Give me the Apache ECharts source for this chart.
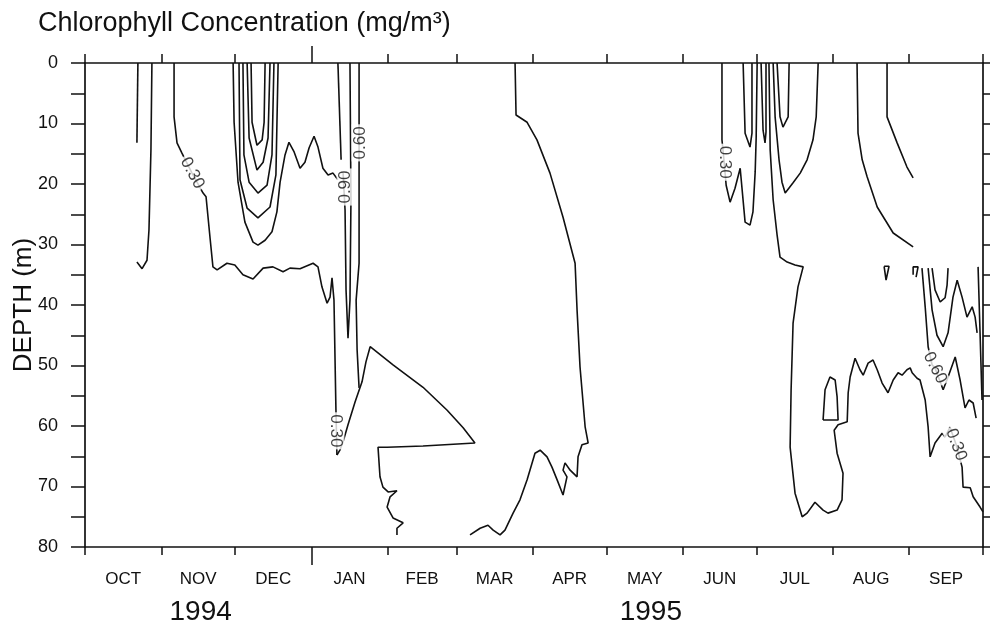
<!DOCTYPE html>
<html><head><meta charset="utf-8">
<script src="https://cdn.jsdelivr.net/npm/echarts@6/dist/echarts.min.js"></script>
<style>html,body{margin:0;padding:0;background:#fff}#chart{width:991px;height:625px}</style>
</head><body><div id="chart"></div>
<script>
// ---- axis data (x = days since 1 Oct 1994, y = depth in m) ----
const monthNames = ['OCT','NOV','DEC','JAN','FEB','MAR','APR','MAY','JUN','JUL','AUG','SEP'];
const monthStartDays = [0,31,61,92,123,151,182,212,243,273,304,335,365];
const yearLabels = ['1994','1995'];
const yearLabelDays = [47,230];
const yearBreakDays = [92];
const depthTicks = [0,5,10,15,20,25,30,35,40,45,50,55,60,65,70,75,80];
const depthLabels = [0,10,20,30,40,50,60,70,80];

// ---- contour lines [day, depth] ----
const octA = [[21.5,0],[21.1,13.2]];
const octB = [[27.2,0],[26.8,14.4],[26.0,27.6],[25.2,32.6],[23.2,34.0],[21.1,32.9]];
const nov030 = [[36.2,0],[36.2,8.9],[37.4,13.2],[39.4,14.9],[43.5,18.2],[48.0,21.5],[49.2,22.1],[50.8,28.8],[52.0,33.7],[53.7,34.2],[57.7,33.1],[60.9,33.4],[64.2,35.0],[68.3,35.7],[72.4,33.9],[76.4,33.7],[80.5,34.5],[83.3,33.9],[87.4,34.0],[92.7,33.1],[94.7,33.7],[96.3,37.0],[98.4,39.7],[99.6,38.7],[100.4,35.5],[101.2,39.2],[102.0,57.4],[102.4,64.8]];
const janTri = [[102.4,64.8],[103.6,64.0],[104.9,62.6],[106.9,59.8],[109.8,56.0],[112.6,52.7],[114.2,49.4],[115.9,46.9],[125.2,49.9],[137.4,53.6],[147.2,57.4],[153.7,60.3],[158.5,62.8],[137.4,63.3],[122.8,63.5],[119.1,63.5],[119.9,68.4],[121.1,70.1],[123.2,70.9],[126.8,70.7],[124.0,71.7],[122.8,73.4],[125.2,75.2],[129.3,76.0],[126.8,76.9],[126.8,78.0]];
const janTop = [[102.8,0],[104.1,16.0]];
const jan090 = [[104.9,18.2],[105.7,24.3],[106.1,37.5],[106.9,45.5],[107.7,39.2],[108.1,22.6],[107.7,0]];
const jan060 = [[111.4,0],[111.4,33.1],[110.2,39.2],[110.6,47.4],[111.4,53.7]];
const decU1 = [[67.5,0],[67.9,9.8],[69.9,13.6],[72.0,12.7],[72.8,9.8],[73.2,0]];
const decU2 = [[65.9,0],[66.7,12.4],[69.9,17.7],[72.4,16.4],[74.4,12.4],[75.2,0]];
const decU3 = [[64.2,0],[64.6,15.2],[66.7,19.7],[70.3,21.5],[74.0,20.2],[76.0,15.2],[76.8,0]];
const decU4 = [[62.6,0],[63.0,19.3],[65.9,24.0],[70.3,25.6],[75.2,23.8],[77.6,18.5],[78.5,0]];
const decU5 = [[60.2,0],[60.6,9.8],[62.2,19.7],[65.0,26.3],[68.3,29.6],[70.3,30.1],[73.2,29.3],[76.0,27.9],[78.0,24.6],[79.3,19.7],[81.3,15.2],[82.9,13.1],[85.0,14.7],[87.4,17.4],[89.4,16.4],[91.1,14.0],[93.1,12.1],[94.7,13.9],[96.7,17.4],[98.8,18.5],[100.8,18.2],[102.8,19.3]];
const marApr = [[174.8,0],[175.2,8.6],[179.7,9.8],[183.7,12.7],[189.0,18.2],[194.3,25.5],[199.2,33.1],[200.0,40.8],[201.2,50.2],[203.3,60.2],[204.5,62.8],[202.0,63.1],[200.4,65.1],[200.0,68.4],[197.2,67.3],[195.1,66.1],[194.3,67.3],[195.9,68.4],[194.3,71.4],[191.9,68.9],[189.8,66.8],[187.8,65.1],[185.0,64.0],[182.9,64.5],[179.7,68.9],[176.8,72.2],[174.0,74.4],[170.7,77.2],[168.7,78.0],[165.9,77.2],[163.8,76.4],[160.6,76.9],[156.5,78.0]];
const jun030 = [[258.9,0],[258.9,12.7],[259.8,16.4],[260.6,20.2],[262.2,23.0],[264.2,20.7],[266.3,17.4],[268.3,26.3],[270.3,26.8],[271.5,24.6],[272.4,18.0],[272.8,12.4],[273.2,0]];
const junF1 = [[267.5,0],[268.3,11.6],[270.3,13.9],[271.1,11.6],[271.1,0]];
const junF2 = [[274.8,0],[275.6,11.1],[276.4,13.2],[276.8,11.4],[276.8,0]];
const julU = [[279.7,0],[280.5,8.9],[282.1,16.0],[283.3,19.7],[284.6,21.5],[287.8,19.8],[290.7,18.2],[293.5,16.0],[295.9,12.7],[297.2,8.9],[298.0,0]];
const julF = [[281.3,0],[282.5,8.9],[283.7,10.6],[285.8,8.9],[286.2,0]];
const jul030 = [[278.0,0],[278.5,14.4],[279.7,22.6],[281.3,28.4],[282.5,32.1],[285.4,32.9],[288.6,33.4],[291.9,33.7],[289.8,37.0],[287.8,43.0],[287.0,54.0],[286.6,63.5],[288.6,71.1],[291.5,75.0],[293.5,74.4],[296.7,72.6],[300.0,73.9],[302.0,74.4],[305.7,73.9],[307.7,72.2],[308.1,67.8],[305.7,64.5],[304.5,60.7],[306.1,59.8],[309.8,59.3],[310.2,54.5],[311.0,51.9],[313.0,48.8],[315.0,50.7],[316.3,51.6],[318.3,49.6],[320.3,49.1],[322.0,50.7],[324.0,52.9],[326.4,54.5],[328.5,52.4],[330.5,51.2],[332.1,51.6],[334.1,50.7],[335.4,50.4],[336.2,51.2],[338.2,52.1],[339.4,52.4],[341.5,55.7],[342.7,60.2],[343.5,65.1],[345.5,62.8],[348.4,61.2],[349.6,61.8],[351.6,60.2],[354.1,63.1],[356.5,66.8],[356.9,70.1],[359.8,70.2],[361.0,71.7],[363.8,73.4],[365.0,74.2]];
const augA = [[313.8,0],[314.2,11.6],[315.9,16.0],[317.9,18.8],[322.0,23.8],[328.5,28.1],[336.6,30.4]];
const augB = [[326.0,0],[326.0,8.9],[330.1,13.2],[334.1,17.2],[336.6,19.0]];
const augLoop = [[300.0,59.0],[300.8,54.0],[302.8,51.9],[304.9,52.4],[305.7,55.2],[306.1,59.0],[300.0,59.0]];
const augTri = [[324.8,33.6],[326.8,33.6],[325.6,35.9],[324.8,33.6]];
const augHook = [[336.6,35.0],[336.6,33.7],[338.6,33.7],[337.8,35.4]];
const sep060 = [[340.2,33.9],[341.5,40.3],[342.7,46.9],[344.3,49.9],[345.5,50.4],[348.8,54.0],[350.8,51.9],[353.7,48.6],[355.7,52.4],[357.7,57.0],[359.3,55.7],[361.0,56.2],[362.2,58.7]];
const sepU1 = [[344.3,33.9],[345.5,37.5],[347.6,39.5],[349.6,38.8],[350.4,36.7],[350.8,33.9]];
const sepU2 = [[342.7,33.9],[344.3,40.8],[346.3,45.0],[348.8,46.9],[350.8,44.6],[352.8,38.7],[354.5,35.9],[356.5,38.7],[358.5,42.0],[360.6,40.3],[361.8,42.0],[362.6,44.6]];
const sepEdge = [[363.0,33.7],[363.8,44.6],[364.6,55.7]];

// ---- contour labels ----
const labelTexts = ['0.30','0.90','0.60','0.30','0.30','0.60','0.30'];
const labelDays  = [43.6,105.7,111.8,102.0,260.0,345.5,354.1];
const labelDepths= [18.2,20.5,13.2,60.8,16.4,50.4,63.1];
const labelAngles= [-62,90,90,-90,-90,-63,-69];

const contours = [octA,octB,nov030,janTri,janTop,jan090,jan060,decU1,decU2,decU3,decU4,decU5,marApr,
  jun030,junF1,junF2,julU,julF,jul030,augA,augB,augLoop,augTri,augHook,sep060,sepU1,sepU2,sepEdge];

const INK = '#111';
const FONT = '"Liberation Sans", Arial, sans-serif';
const monthMid = monthNames.map((m,i)=> (monthStartDays[i]+monthStartDays[i+1])/2);

function xBase(extra){
  return Object.assign({type:'value', min:0, max:365, gridIndex:0, splitLine:{show:false},
    axisLine:{show:false, onZero:false}, axisTick:{show:false}, axisLabel:{show:false}}, extra);
}

const chart = echarts.init(document.getElementById('chart'), null, {renderer:'canvas'});
const option = {
  animation:false,
  backgroundColor:'#fff',
  title:{text:'Chlorophyll Concentration (mg/m³)', left:33, top:5,
    textStyle:{fontSize:27, fontWeight:'normal', fontFamily:FONT, color:INK}},
  grid:{left:85, right:8, top:63, bottom:78, containLabel:false, outerBoundsMode:'none'},
  xAxis:[
    xBase({position:'bottom',
      axisLine:{show:true, onZero:false, lineStyle:{color:INK, width:1.7}},
      axisTick:{show:true, customValues:monthStartDays, length:8, lineStyle:{color:INK, width:1.5}},
      axisLabel:{show:true, customValues:monthMid, margin:24, fontSize:17, color:INK, fontFamily:FONT,
        formatter:(v)=> monthNames[monthMid.indexOf(v)] || ''}}),
    xBase({position:'bottom',
      axisTick:{show:true, customValues:yearBreakDays, length:18, lineStyle:{color:INK, width:1.5}}}),
    xBase({position:'bottom',
      axisLabel:{show:true, customValues:yearLabelDays, margin:51, fontSize:28, color:INK, fontFamily:FONT,
        formatter:(v)=> yearLabels[yearLabelDays.indexOf(v)] || ''}}),
    xBase({position:'top',
      axisLine:{show:true, onZero:false, lineStyle:{color:INK, width:1.7}},
      axisTick:{show:true, customValues:monthStartDays, length:9, lineStyle:{color:INK, width:1.5}}}),
    xBase({position:'top',
      axisTick:{show:true, customValues:yearBreakDays, length:17, lineStyle:{color:INK, width:1.5}}})
  ],
  yAxis:[
    {type:'value', inverse:true, min:0, max:80, position:'left', splitLine:{show:false},
      axisLine:{show:true, onZero:false, lineStyle:{color:INK, width:1.7}},
      axisTick:{show:true, customValues:depthTicks, length:14, lineStyle:{color:INK, width:1.5}},
      axisLabel:{customValues:depthLabels, margin:27, fontSize:18, color:INK, fontFamily:FONT},
      name:'DEPTH (m)', nameLocation:'middle', nameRotate:90, nameGap:48, nameMoveOverlap:false,
      nameTextStyle:{fontSize:26, color:INK, fontFamily:FONT}},
    {type:'value', inverse:true, min:0, max:80, position:'right', splitLine:{show:false},
      axisLine:{show:true, onZero:false, lineStyle:{color:INK, width:1.7}},
      axisTick:{show:true, customValues:depthTicks, length:7, lineStyle:{color:INK, width:1.5}},
      axisLabel:{show:false}}
  ],
  series: contours.map(arr => ({
    type:'line', data:arr, xAxisIndex:0, yAxisIndex:0, symbol:'none', showSymbol:false,
    silent:true, z:2, lineStyle:{color:INK, width:1.6}
  })).concat([{
    type:'scatter', xAxisIndex:0, yAxisIndex:0, symbolSize:0, silent:true, z:5,
    data: labelTexts.map((t,i)=>({name:t, value:[labelDays[i], labelDepths[i]], label:{rotate:labelAngles[i]}})),
    label:{show:true, position:'inside', formatter:'{b}', fontSize:17, color:INK, fontFamily:FONT,
      backgroundColor:'#fff', padding:[0,2]}
  }])
};
chart.setOption(option);
</script></body></html>
